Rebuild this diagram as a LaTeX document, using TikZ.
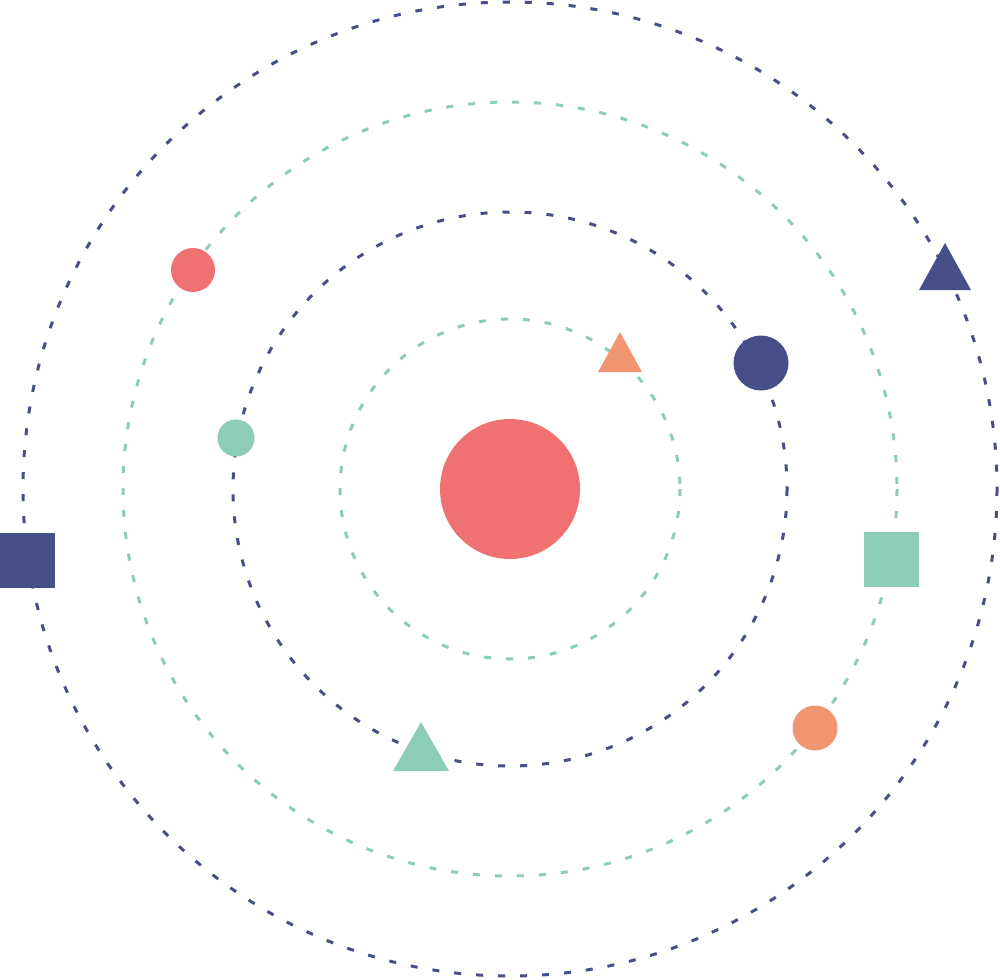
\documentclass[tikz,border=0pt]{standalone}
\usetikzlibrary{shapes.geometric}
\definecolor{cred}{HTML}{F07171}
\definecolor{cnavy}{HTML}{464F87}
\definecolor{cgreen}{HTML}{8DCDB5}
\definecolor{corange}{HTML}{F09672}
\tikzset{
  orbit/.style={line width=3pt, dash pattern=on 7pt off 15pt},
  planet/.style={circle, inner sep=0pt, minimum size=#1, draw=none},
  tri/.style={regular polygon, regular polygon sides=3, inner sep=0pt, draw=none},
  sq/.style={rectangle, inner sep=0pt, minimum size=55pt, draw=none}
}
\begin{document}
\begin{tikzpicture}[x=1pt,y=-1pt]
\useasboundingbox (0,0) rectangle (1000,979);
% orbits
\draw[orbit, cgreen] (510,489) circle[radius=170];
\draw[orbit, cnavy] (510,489) circle[radius=277];
\draw[orbit, cgreen] (510,489) circle[radius=387];
\draw[orbit, cnavy] (510,489) circle[radius=487];
% sun
\node[planet=140pt, fill=cred] (sun) at (510,489) {};
% planets
\node[planet=44pt, fill=cred] (p1) at (193,270) {};
\node[planet=37pt, fill=cgreen] (p2) at (236,438) {};
\node[planet=55pt, fill=cnavy] (p3) at (761,363) {};
\node[planet=45pt, fill=corange] (p4) at (815,728) {};
\node[sq, fill=cnavy] (s1) at (27.5,560.5) {};
\node[sq, fill=cgreen] (s2) at (891.5,559.5) {};
\fill[corange] (598,372) -- (620,332) -- (642,372) -- cycle;
\fill[cnavy] (919,290) -- (945,243) -- (971,290) -- cycle;
\fill[cgreen] (393,771) -- (421,722) -- (449,771) -- cycle;
\coordinate (t1) at (620,358);
\coordinate (t2) at (945,274);
\coordinate (t3) at (421,754);
\end{tikzpicture}
\end{document}
